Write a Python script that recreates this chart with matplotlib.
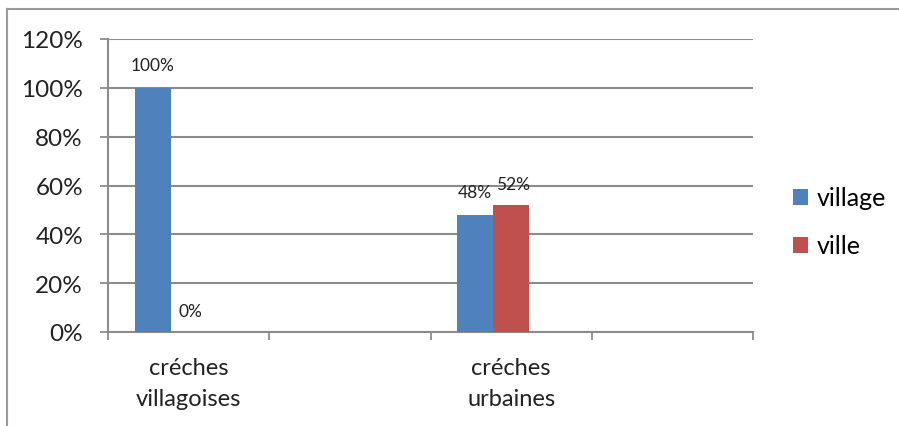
import matplotlib.pyplot as plt
from matplotlib.lines import Line2D
from matplotlib.patches import Patch

# categories (Excel chart had 4 slots, two of them empty)
categories = ["créches\nvillagoises", "", "créches\nurbaines", ""]
village = [1.00, None, 0.48, None]
ville = [0.00, None, 0.52, None]
village_labels = ["100%", None, "48%", None]
ville_labels = ["0%", None, "52%", None]

blue = "#4F81BD"
red = "#C0504D"
grid_col = "#8C8C8C"
font = "Lato"

fig = plt.figure(figsize=(8.99, 4.27), dpi=100)
ax = fig.add_axes([108 / 899, 1 - 333 / 427, (753 - 108) / 899, (333 - 40) / 427])

bw = 36 / 161.5
for i in range(len(categories)):
    if village[i] is not None:
        ax.bar(i - bw, village[i], width=bw, color=blue, zorder=3)
        ax.text(i - bw, village[i] + 0.06, village_labels[i], ha="center", va="bottom",
                fontsize=12.5, family=font, color="#222222")
    if ville[i] is not None:
        ax.bar(i, ville[i], width=bw, color=red, zorder=3)
        ax.text(i + 0.01, ville[i] + 0.055, ville_labels[i], ha="center", va="bottom",
                fontsize=12.5, family=font, color="#222222")

ax.set_xlim(-0.5, len(categories) - 0.5)
ax.set_ylim(0, 1.2)
ax.set_yticks([0, 0.2, 0.4, 0.6, 0.8, 1.0, 1.2])
ax.set_yticklabels(["0%", "20%", "40%", "60%", "80%", "100%", "120%"],
                   fontsize=17.5, family=font, color="#222222")
ax.yaxis.grid(True, color=grid_col, linewidth=1.5, zorder=0)
ax.set_axisbelow(True)

# category boundaries as major ticks, names on minor ticks
ax.set_xticks([i - 0.5 for i in range(len(categories) + 1)])
ax.set_xticklabels([])
ax.set_xticks(range(len(categories)), minor=True)
ax.set_xticklabels(categories, minor=True, fontsize=17, family=font, color="#222222",
                   linespacing=1.6)
ax.tick_params(axis="x", which="major", length=6, width=1.3, color=grid_col, direction="out")
ax.tick_params(axis="x", which="minor", length=0, pad=18)
ax.tick_params(axis="y", length=6, width=1.3, color=grid_col, pad=12)

for s in ["top", "right"]:
    ax.spines[s].set_visible(False)
for s in ["left", "bottom"]:
    ax.spines[s].set_color(grid_col)
    ax.spines[s].set_linewidth(1.5)

handles = [Patch(facecolor=blue, label="village"), Patch(facecolor=red, label="ville")]
leg = fig.legend(handles=handles, loc="upper left", bbox_to_anchor=(775 / 899, 1 - 170 / 427),
                 frameon=False, prop={"family": font, "size": 18}, handlelength=0.62,
                 handleheight=0.62, handletextpad=0.35, labelspacing=1.0, borderpad=0.2)

# outer chart border
fig.add_artist(Line2D([6.5 / 899, 6.5 / 899], [0, 1 - 10 / 427], transform=fig.transFigure,
                      color="#9A9A9A", linewidth=1.5))
fig.add_artist(Line2D([6.5 / 899, 1], [1 - 10 / 427, 1 - 10 / 427], transform=fig.transFigure,
                      color="#9A9A9A", linewidth=1.5))

fig.savefig("out.png", dpi=100, facecolor="white")
